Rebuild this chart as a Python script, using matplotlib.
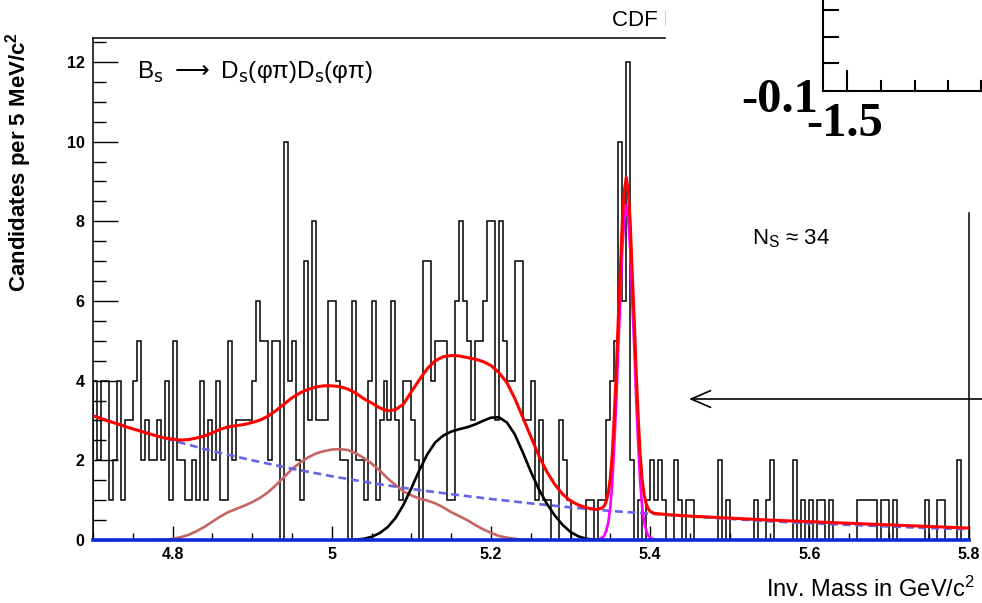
import numpy as np
import matplotlib
matplotlib.use("Agg")
import matplotlib.pyplot as plt
from matplotlib.patches import Rectangle
from matplotlib.lines import Line2D

# ================================================================
# 1. DATA
# ================================================================
# histogram: 220 bins of 5 MeV from 4.70 to 5.80 GeV
bin_edges = np.linspace(4.70, 5.80, 221)
counts = [
    4, 2, 4, 4, 1, 2, 4, 1, 3, 3, 4, 5,
    2, 3, 2, 2, 3, 2, 4, 1, 5, 2, 2, 1, 1, 2, 1,
    4, 1, 3, 2, 4, 1, 1, 5, 2, 3, 3, 3, 3, 4, 6, 5, 5, 2,
    5, 5, 0, 10, 4, 5, 2, 1, 7, 3, 8, 3, 3, 3, 6, 6,
    4, 2, 2, 0, 6, 2, 2, 1, 4, 6, 1,
    3, 4, 3, 6, 3, 1, 4, 4, 3, 2, 0, 7, 7, 4, 5, 5, 5,
    1, 1, 6, 8, 6, 5, 3, 5, 5, 6, 8, 8, 3, 8,
    5, 4, 4, 7, 7, 3, 3, 4, 1, 3, 1, 1, 0, 0, 3, 2, 1, 0, 0, 0, 0, 1,
    1, 0, 1, 1, 3, 4, 5, 10, 6, 12, 2, 0, 1, 0, 1,
    2, 1, 2, 1, 0, 0, 2, 1, 0, 1, 1, 0, 0, 0, 0, 0, 0, 2, 0, 1,
    0, 0, 0, 0, 0, 0, 1, 0, 0, 1, 2, 0, 0, 0, 0, 0, 2, 0, 1, 0,
    1, 0, 1, 1, 0, 1, 0, 0, 0, 0, 0, 0, 1, 1, 1, 1, 1, 0, 1, 1,
    0, 1, 0, 0, 0, 0, 0, 0, 0, 1, 0, 0, 1, 1, 0, 0, 0, 2, 0, 0,
]

# combinatorial background (blue dashed)
bkg_x = np.linspace(4.70, 5.80, 23)
bkg_y = [3.12, 2.79, 2.50, 2.23, 2.00, 1.79, 1.60, 1.43, 1.28, 1.15, 1.03, 0.92,
         0.82, 0.73, 0.66, 0.59, 0.53, 0.47, 0.42, 0.38, 0.34, 0.30, 0.27]

# partially reconstructed component (pink)
pink_x = np.linspace(4.77, 5.26, 50)
pink_y = [0.00, 0.00, 0.01, 0.03, 0.07, 0.13, 0.22, 0.33, 0.46, 0.59,
          0.70, 0.78, 0.86, 0.95, 1.06, 1.20, 1.38, 1.58, 1.78, 1.94,
          2.07, 2.17, 2.23, 2.27, 2.28, 2.26, 2.18, 2.06, 1.92, 1.75,
          1.55, 1.38, 1.22, 1.12, 1.04, 0.99, 0.92, 0.82, 0.70, 0.60,
          0.50, 0.38, 0.27, 0.18, 0.10, 0.06, 0.03, 0.01, 0.00, 0.00]

# D*s Ds component (black)
black_x = np.linspace(5.02, 5.34, 33)
black_y = [0.00, 0.01, 0.03, 0.08, 0.17, 0.32, 0.55, 0.88, 1.30, 1.75,
           2.15, 2.45, 2.62, 2.72, 2.78, 2.83, 2.90, 2.99, 3.07, 3.08,
           2.95, 2.65, 2.20, 1.72, 1.28, 0.92, 0.62, 0.38, 0.20, 0.09,
           0.03, 0.01, 0.00]

# signal peak (magenta)
sig_x = np.linspace(5.33, 5.41, 33)
sig_y = [0.0, 0.01, 0.02, 0.035, 0.06, 0.11, 0.24, 0.45, 0.83, 1.45, 2.40,
         3.50, 4.85, 6.00, 7.28, 8.05, 8.40, 8.05, 7.28, 6.00, 4.85, 3.50,
         2.40, 1.45, 0.83, 0.45, 0.24, 0.11, 0.06, 0.035, 0.02, 0.01, 0.0]

# total fit (red)
tot_x = np.concatenate([np.linspace(4.70, 5.33, 64),
                        np.linspace(5.3325, 5.405, 30),
                        [5.41, 5.42, 5.45, 5.50, 5.55, 5.60, 5.65, 5.70, 5.75, 5.80]])
tot_y = [3.12, 3.05, 2.98, 2.92, 2.85, 2.79, 2.73, 2.67, 2.61, 2.56,
         2.53, 2.51, 2.52, 2.56, 2.61, 2.69, 2.78, 2.84, 2.87, 2.90,
         2.95, 3.01, 3.11, 3.25, 3.41, 3.57, 3.69, 3.78, 3.84, 3.87,
         3.87, 3.85, 3.79, 3.69, 3.55, 3.44, 3.32, 3.24, 3.27, 3.41,
         3.72, 4.02, 4.30, 4.50, 4.60, 4.63, 4.62, 4.58, 4.54, 4.48,
         4.38, 4.20, 3.95, 3.55, 3.08, 2.60, 2.12, 1.72, 1.40, 1.15,
         0.98, 0.88, 0.81, 0.77,
         0.77, 0.78, 0.79, 0.81, 0.86, 0.98, 1.19, 1.56, 2.18, 3.13,
         4.22, 5.57, 6.71, 7.99, 8.75, 9.10, 8.74, 7.97, 6.69, 5.54,
         4.19, 3.09, 2.14, 1.51, 1.13, 0.91, 0.79, 0.72, 0.69, 0.67,
         0.66, 0.64, 0.60, 0.55, 0.50, 0.46, 0.42, 0.38, 0.34, 0.30]

zero_x = [4.70, 5.80]
zero_y = [0.0, 0.0]

x_ticks = [4.8, 5.0, 5.2, 5.4, 5.6, 5.8]
y_ticks = [0, 2, 4, 6, 8, 10, 12]

# ================================================================
# 2. STYLE
# ================================================================
plt.rcParams["font.family"] = ["Liberation Sans", "DejaVu Sans"]
plt.rcParams["mathtext.fontset"] = "custom"
plt.rcParams["mathtext.rm"] = "Liberation Sans"
plt.rcParams["mathtext.it"] = "Liberation Sans:italic"
plt.rcParams["mathtext.bf"] = "Liberation Sans:bold"

W, H = 982, 603
fig = plt.figure(figsize=(W / 100, H / 100), dpi=100)


def fx(px):
    return px / W


def fy(py):
    return 1 - py / H


ax = fig.add_axes([fx(93), fy(540), (968.5 - 93) / W, (540 - 38) / H])

# ================================================================
# 3. PLOT
# ================================================================
ax.stairs(counts, bin_edges, color="black", lw=1.1, zorder=2)
ax.plot(pink_x, pink_y, color="#c86464", lw=1.9, zorder=3)
ax.plot(bkg_x, bkg_y, color="#6464e6", lw=1.9, ls=(0, (3, 1.8)), zorder=3)
ax.plot(black_x, black_y, color="black", lw=1.9, zorder=4)
ax.plot(sig_x, sig_y, color="#ff00ff", lw=1.9, zorder=4)
ax.plot(tot_x, tot_y, color="#ff0000", lw=2.2, zorder=5)
ax.plot(zero_x, zero_y, color="#0a2ad6", lw=2.6, zorder=6, clip_on=False)

ax.set_xlim(4.70, 5.80)
ax.set_ylim(0, 12.6)
ax.set_xticks(x_ticks)
ax.set_xticklabels(["%g" % t for t in x_ticks])
ax.set_yticks(y_ticks)
ax.xaxis.set_minor_locator(matplotlib.ticker.MultipleLocator(0.05))
ax.yaxis.set_minor_locator(matplotlib.ticker.MultipleLocator(0.5))
ax.tick_params(axis="x", which="major", direction="in", length=10, width=1.0, pad=5)
ax.tick_params(axis="x", which="minor", direction="in", length=5, width=1.0)
ax.tick_params(axis="y", which="major", direction="in", length=18, width=1.0, pad=6)
ax.tick_params(axis="y", which="minor", direction="in", length=9, width=1.0)
for lab in ax.get_xticklabels() + ax.get_yticklabels():
    lab.set_fontweight("bold")
    lab.set_fontsize(11.5)
for s in ax.spines.values():
    s.set_linewidth(1.1)

# titles and labels
fig.text(fx(19), fy(32), r"Candidates per 5 MeV/c$^{\mathbf{2}}$", rotation=90,
         ha="center", va="top", fontsize=16, fontweight="bold")
fig.text(fx(975), fy(597), r"Inv. Mass in GeV/c$^{2}$", ha="right", va="baseline", fontsize=17)
fig.text(fx(137), fy(78), r"B$_{\mathrm{s}}$ $\longrightarrow$ D$_{\mathrm{s}}$(φπ)D$_{\mathrm{s}}$(φπ)",
         ha="left", va="baseline", fontsize=17.5, math_fontfamily="dejavusans")
fig.text(fx(612), fy(26), "CDF Run II Preliminary", ha="left", va="baseline", fontsize=16)
fig.text(fx(752), fy(244), r"N$_{\mathrm{S}}$ ≈ 34", ha="left", va="baseline", fontsize=16)

ax.annotate("", xy=(689, H - 399), xytext=(W + 5, H - 399), xycoords="figure pixels",
            arrowprops=dict(arrowstyle="->,head_length=0.7,head_width=0.3", lw=1.2,
                            color="black", shrinkA=0, shrinkB=0, mutation_scale=20))

# overlapping corner of another pad
fig.add_artist(Rectangle((fx(666), fy(211)), (W - 666) / W, 211 / H,
                         transform=fig.transFigure, color="white", zorder=10))
inset_lines = [
    ([823, 823], [0, 91]), ([823, 982], [91, 91]),
    ([823, 838], [10, 10]), ([823, 838], [37, 37]), ([823, 838], [63, 63]),
    ([847, 847], [71, 91]), ([881, 881], [81, 91]), ([915, 915], [81, 91]),
    ([948, 948], [81, 91]), ([981, 981], [81, 91]),
]
for xs, ys in inset_lines:
    fig.add_artist(Line2D([fx(v) for v in xs], [fy(v) for v in ys], transform=fig.transFigure,
                          color="black", lw=1.5, zorder=11))
fig.text(fx(818), fy(112), "-0.1", ha="right", va="baseline", fontsize=35,
         family="Liberation Serif", fontweight="bold", zorder=12)
fig.text(fx(845), fy(136), "-1.5", ha="center", va="baseline", fontsize=35,
         family="Liberation Serif", fontweight="bold", zorder=12)

fig.savefig("out.png", dpi=100)
